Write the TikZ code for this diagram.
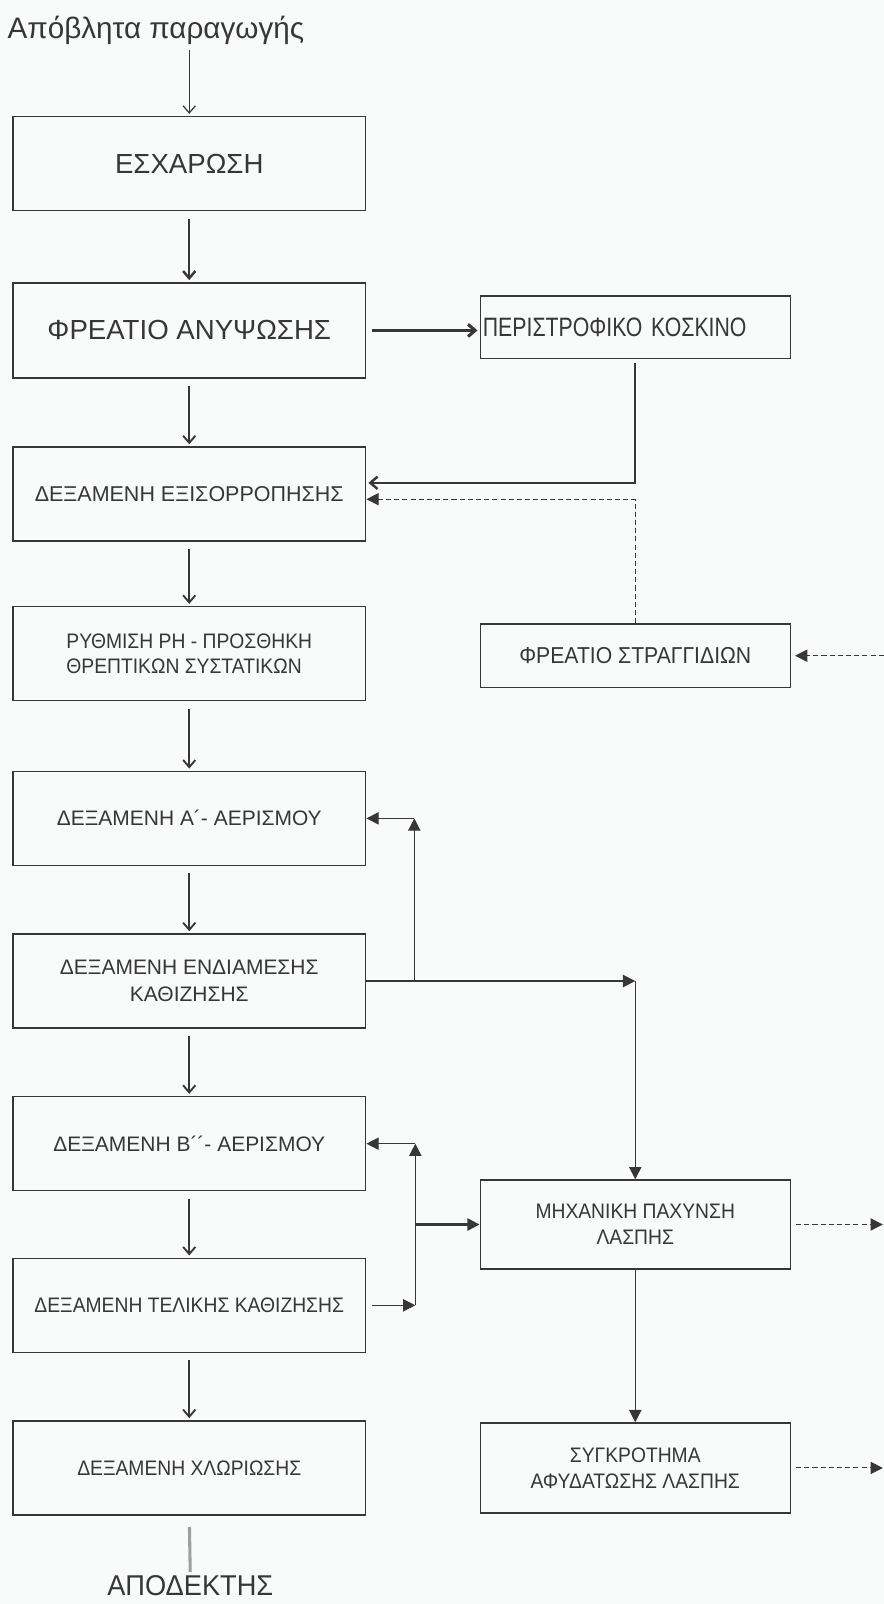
\documentclass[tikz,border=0pt]{standalone}
\usepackage{fontspec}
\setmainfont{Liberation Sans}
\newfontfamily\boxfont[FakeStretch=0.92]{Liberation Sans}
\newfontfamily\bigfont[FakeStretch=0.95]{Liberation Sans}
\newfontfamily\narrowfont[FakeStretch=0.8]{Liberation Sans}
\usetikzlibrary{positioning,arrows.meta,calc}
\definecolor{ink}{RGB}{55,55,58}
\definecolor{paper}{RGB}{249,250,250}

\begin{document}
\begin{tikzpicture}[x=0.5pt,y=-0.5pt,
  every node/.style={text=ink},
  tank/.style={draw=ink,line width=0.7pt,minimum width=172.5pt,minimum height=46pt,inner sep=0pt,align=center,font=\boxfont\fontsize{10.25}{12.5}\selectfont},
  widetank/.style={tank,font=\fontsize{10.25}{13.5}\selectfont},
  bigtank/.style={tank,font=\fontsize{13.5}{15}\selectfont},
  side/.style={tank,minimum width=151.5pt},
  flow/.style={draw=ink,line width=0.9pt,-{Straight Barb[length=3.5pt,width=6pt]},shorten <=3.5pt,shorten >=1pt},
  sludge/.style={draw=ink,line width=0.6pt,-{Triangle[length=6pt,width=6pt]}},
  seep/.style={sludge,dash pattern=on 2.5pt off 1.5pt,line width=0.5pt}]
\useasboundingbox (0,0) rectangle (864,1568);
\fill[paper] (0,0) rectangle (864,1568);

% main line
\node[inner sep=0pt,anchor=base west,font=\fontsize{14.5}{17}\selectfont] (inflow) at (7,38) {Απόβλητα παραγωγής};
\node[bigtank] (screen) at (185,160) {ΕΣΧΑΡΩΣΗ};
\node[bigtank,minimum height=46.5pt] (lift) at (185,323) {ΦΡΕΑΤΙΟ ΑΝΥΨΩΣΗΣ};
\node[tank,font=\fontsize{10.5}{12.5}\selectfont] (equal) at (185,483) {ΔΕΞΑΜΕΝΗ ΕΞΙΣΟΡΡΟΠΗΣΗΣ};
\node[tank,align=left] (ph) at (185,639) {ΡΥΘΜΙΣΗ PH - ΠΡΟΣΘΗΚΗ\\ΘΡΕΠΤΙΚΩΝ ΣΥΣΤΑΤΙΚΩΝ};
\node[widetank] (aerA) at (185,800) {ΔΕΞΑΜΕΝΗ Α´- ΑΕΡΙΣΜΟΥ};
\node[widetank] (settleA) at (185,959) {ΔΕΞΑΜΕΝΗ ΕΝΔΙΑΜΕΣΗΣ\\ΚΑΘΙΖΗΣΗΣ};
\node[widetank] (aerB) at (185,1118) {ΔΕΞΑΜΕΝΗ Β´´- ΑΕΡΙΣΜΟΥ};
\node[tank] (settleB) at (185,1276) {ΔΕΞΑΜΕΝΗ ΤΕΛΙΚΗΣ ΚΑΘΙΖΗΣΗΣ};
\node[tank] (chlor) at (185,1435) {ΔΕΞΑΜΕΝΗ ΧΛΩΡΙΩΣΗΣ};
\node[inner sep=0pt,font=\bigfont\fontsize{14}{15}\selectfont] (outlet) at (186,1550) {ΑΠΟΔΕΚΤΗΣ};

% side units
\node[side,minimum height=30.5pt,align=left,text width=149pt,font=\narrowfont\fontsize{13}{15}\selectfont] (sieve) at (621,320) {ΠΕΡΙΣΤΡΟΦΙΚΟ ΚΟΣΚΙΝΟ};
\node[side,minimum height=31pt,font=\boxfont\fontsize{11.25}{13}\selectfont] (drain) at (621,641) {ΦΡΕΑΤΙΟ ΣΤΡΑΓΓΙΔΙΩΝ};
\node[side,minimum height=43.5pt] (thick) at (621,1197) {ΜΗΧΑΝΙΚΗ ΠΑΧΥΝΣΗ\\ΛΑΣΠΗΣ};
\node[side,minimum height=44pt] (dewater) at (621,1435) {ΣΥΓΚΡΟΤΗΜΑ\\ΑΦΥΔΑΤΩΣΗΣ ΛΑΣΠΗΣ};

\coordinate (drainin) at (864,641);
\coordinate (thickout) at (863,1197);
\coordinate (dewout) at (863,1435);
\coordinate (retA) at (405,800);
\coordinate (splitA) at (405,959);
\coordinate (turnA) at (621,959);
\coordinate (retB) at (406,1118);
\coordinate (splitB) at (406,1197);
\coordinate (joinB) at (406,1276);

% water
\draw[flow,line width=0.6pt,shorten <=2pt] (inflow.south -| screen.north) -- (screen.north);
\draw[flow,line width=1.2pt] (screen) -- (lift);
\draw[flow] (lift) -- (equal);
\draw[flow] (equal) -- (ph);
\draw[flow] (ph) -- (aerA);
\draw[flow] (aerA) -- (settleA);
\draw[flow] (settleA) -- (aerB);
\draw[flow] (aerB) -- (settleB);
\draw[flow] (settleB) -- (chlor);
\draw[draw=gray!75,line width=1.5pt,shorten <=5.5pt,shorten >=1.5pt] (chlor.south) -- (outlet.north);
\draw[flow,line width=1.5pt,shorten <=2.5pt] (lift.east) -- (lift.east -| sieve.west);
\draw[flow,line width=1.2pt,shorten <=2pt] (sieve.south) |- ([yshift=5.5pt]equal.east);

% drains
\draw[seep] (drain.north) |- ([yshift=-2.5pt]equal.east);
\draw[seep,shorten >=2pt] (drainin) -- (drain.east);
\draw[seep,shorten <=2.5pt] (thick.east) -- (thickout);
\draw[seep,shorten <=2.5pt] (dewater.east) -- (dewout);

% sludge
\draw[sludge] (settleA.east) -- (turnA);
\draw[sludge] (turnA) -- (thick.north);
\draw[sludge] (splitA) -- (retA);
\draw[sludge] (retA) -- (aerA.east);
\draw[sludge,shorten <=2.5pt] (settleB.east) -- (joinB);
\draw[sludge] (joinB) -- (retB);
\draw[sludge] (retB) -- (aerB.east);
\draw[sludge,line width=1.1pt] (splitB) -- (thick.west);
\draw[sludge] (thick.south) -- (dewater.north);
\end{tikzpicture}
\end{document}
